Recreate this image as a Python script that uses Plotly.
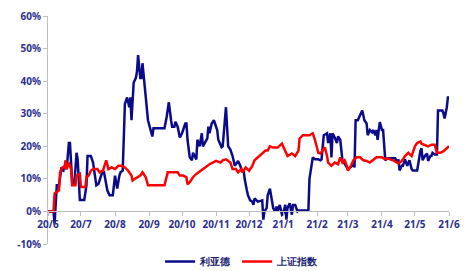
import pandas as pd
import plotly.graph_objects as go

START = "2020-06-01"

# 利亚德: day offset from START, cumulative return (%)
lyd_day = [0, 5, 6, 8, 10, 12, 14, 15, 17, 19, 20, 22, 24, 26, 27, 29, 33, 35, 36, 39,
           41, 44, 46, 49, 51, 54, 56, 59, 61, 63, 65, 66, 68, 70, 72, 74, 75, 76, 78, 80,
           81, 82, 84, 85, 86, 87, 89, 91, 93, 95, 96, 106, 108, 110, 112, 113, 115, 116, 118, 120,
           122, 125, 126, 127, 129, 131, 132, 135, 136, 138, 140, 141, 145, 146, 147, 149, 151, 154, 155, 158,
           159, 160, 162, 163, 164, 166, 168, 170, 173, 175, 177, 178, 179, 181, 182, 184, 186, 187, 188, 191,
           195, 196, 197, 199, 200, 202, 204, 205, 207, 208, 209, 211, 213, 214, 216, 217, 218, 220, 222, 223,
           225, 227, 228, 237, 238, 240, 241, 243, 246, 248, 249, 251, 254, 255, 257, 258, 259, 261, 263, 264,
           266, 268, 270, 273, 277, 278, 279, 280, 282, 284, 286, 287, 288, 290, 291, 293, 295, 296, 298, 299,
           300, 302, 304, 305, 307, 309, 316, 318, 319, 320, 322, 323, 325, 327, 328, 329, 331, 332, 336, 337,
           339, 340, 341, 343, 345, 346, 348, 349, 350, 352, 354, 355, 359, 360, 361, 363, 364, 365]
lyd_val = [0, 0, -3.7, 8, 8, 13, 12.5, 14, 13, 21, 21, 9, 8.5, 18, 16, 3.5, 3.5, 8, 17, 17,
           15, 8, 8.5, 11.7, 12, 6.5, 5, 5, 11, 7, 11, 12, 12.5, 33, 35, 32, 35, 28, 39.6, 41,
           43, 48, 41, 41, 45.5, 41, 35, 28, 25.5, 23, 25.5, 25.5, 29, 33.5, 28, 26, 26, 27.5, 26, 22.7,
           24, 27, 27, 22, 16.6, 15.7, 18, 16, 22, 20, 24, 20, 22.4, 26, 24, 27, 28, 25, 22, 19.7,
           20, 25, 32, 26, 20, 19, 17, 14, 15.5, 14, 12, 13, 10, 6.5, 5, 3.4, 3, 2, 4, 3,
           3.4, -2.5, 0, 1, 5, 7, 3, 1, 0, 1.5, 0, 2, -1, -0.7, 2, -2.5, 1, 2.5, -1, 2,
           2, 0, 0.3, 0.3, 10, 15.7, 16.6, 16, 16, 15.7, 16, 23.4, 24, 21, 24, 16.6, 24, 22.7, 21, 23,
           22, 15.7, 14.7, 13, 14, 15, 13.5, 28, 28, 29.5, 31, 29.5, 28, 27, 23.4, 25, 24.3, 25, 23.4, 25,
           22, 27.4, 25, 25, 15.7, 16.3, 16.3, 15, 16, 12.6, 14, 14, 16, 14, 15, 15.7, 13, 12.6, 12.6, 15,
           18.7, 19.4, 15.7, 17, 17.8, 15.5, 17, 17, 18, 17.5, 17.5, 31, 31, 30, 28.5, 32, 35, 35]

# 上证指数: day offset from START, cumulative return (%)
szzs_day = [0, 5, 6, 8, 10, 11, 13, 15, 16, 17, 19, 21, 22, 25, 26, 29, 30, 34, 35, 37,
            39, 41, 45, 47, 50, 53, 55, 58, 61, 64, 67, 70, 73, 76, 77, 79, 84, 86, 89, 91,
            106, 109, 113, 118, 120, 123, 126, 127, 129, 132, 135, 137, 138, 141, 144, 147, 150, 153, 157, 159,
            162, 166, 168, 171, 173, 176, 177, 180, 183, 186, 188, 191, 195, 198, 200, 202, 205, 209, 213, 216,
            218, 222, 225, 228, 229, 232, 238, 241, 243, 246, 248, 250, 252, 254, 255, 258, 261, 264, 266, 268,
            270, 272, 273, 275, 278, 281, 284, 287, 290, 293, 296, 299, 304, 307, 309, 314, 319, 322, 325, 328,
            331, 334, 336, 339, 340, 343, 346, 349, 352, 354, 357, 360, 363, 365]
szzs_val = [0, 0, 5.5, 6, 6.5, 12, 13.5, 13.5, 15.7, 13, 15, 13, 8, 8, 11, 11.5, 7.5, 7.5, 10.5, 11,
            12.5, 13, 13, 12, 12.5, 15.7, 13, 13.5, 13, 14, 14, 13.5, 12.5, 11, 9.5, 10, 11, 12, 10.5, 8,
            8, 12, 12, 12, 11, 11, 10.5, 8.3, 9, 10.5, 11.5, 12, 12.5, 13, 14, 14.5, 15, 15.5, 15, 15.7,
            16, 15, 13, 13, 12, 13, 12, 13.5, 12.5, 14, 15.7, 16.6, 17.5, 18.7, 18.7, 20, 19.6, 19.6, 20.8, 18.7,
            17, 17.8, 17, 18.7, 22.4, 23.4, 23.4, 24, 22, 18, 17.8, 18.7, 19.7, 17, 15, 14, 15, 14.5, 16.6, 15,
            15.7, 14, 12.6, 13.5, 15.7, 16.6, 16.6, 15.7, 15.5, 15, 15.7, 16.6, 16.6, 16, 16.3, 15.7, 14.7, 15.5, 17, 18,
            17, 20, 21, 21.5, 20.8, 20.5, 20, 20.5, 20.5, 18, 18, 18.5, 19.3, 20]

series_names = ["利亚德", "上证指数"]
series_colors = ["#0b0b8a", "#ff0000"]

y_tickvals = [-10, 0, 10, 20, 30, 40, 50, 60]
y_ticktext = ["-10%", "0%", "10%", "20%", "30%", "40%", "50%", "60%"]
x_tickvals = pd.date_range("2020-06-01", "2021-06-01", freq="MS")
x_ticktext = ["20/6", "20/7", "20/8", "20/9", "20/10", "20/11", "20/12",
              "21/1", "21/2", "21/3", "21/4", "21/5", "21/6"]

start = pd.Timestamp(START)
lyd_x = [start + pd.Timedelta(days=d) for d in lyd_day]
szzs_x = [start + pd.Timedelta(days=d) for d in szzs_day]

label_color = "#2b2f8f"
font_family = "Noto Sans, Liberation Sans, Arial, sans-serif"

fig = go.Figure()
fig.add_trace(go.Scatter(x=lyd_x, y=lyd_val, mode="lines", name=series_names[0],
                         line=dict(color=series_colors[0], width=2.5)))
fig.add_trace(go.Scatter(x=szzs_x, y=szzs_val, mode="lines", name=series_names[1],
                         line=dict(color=series_colors[1], width=2.5)))

fig.update_layout(
    width=473, height=271,
    margin=dict(l=48, r=24, t=16, b=27, autoexpand=False),
    paper_bgcolor="white", plot_bgcolor="white",
    font=dict(family=font_family, size=10, color=label_color),
    showlegend=True,
    legend=dict(orientation="h", x=0.484, xanchor="center",
                yref="container", y=0.035, yanchor="middle",
                font=dict(size=9.5, color="#1a1a6e", family=font_family, weight="bold"),
                itemwidth=30, tracegroupgap=0, bgcolor="rgba(0,0,0,0)"),
    xaxis=dict(type="date", range=["2020-06-01", "2021-06-01"],
               tickvals=x_tickvals, ticktext=x_ticktext,
               anchor="free", position=1/7,
               showgrid=False, zeroline=False,
               showline=True, linecolor="#bfbfbf", linewidth=1,
               ticks="outside", ticklen=4, tickcolor="#bfbfbf",
               tickfont=dict(size=10, color=label_color, family=font_family, weight="bold")),
    yaxis=dict(range=[-10, 60], tickvals=y_tickvals, ticktext=y_ticktext,
               showgrid=False, zeroline=False,
               showline=True, linecolor="#bfbfbf", linewidth=1,
               ticks="outside", ticklen=4, tickcolor="#bfbfbf",
               tickfont=dict(size=10, color=label_color, family=font_family, weight="bold")),
)

fig.write_html("out.html", config={"displayModeBar": False},
               post_script="document.body.style.margin='0';")
